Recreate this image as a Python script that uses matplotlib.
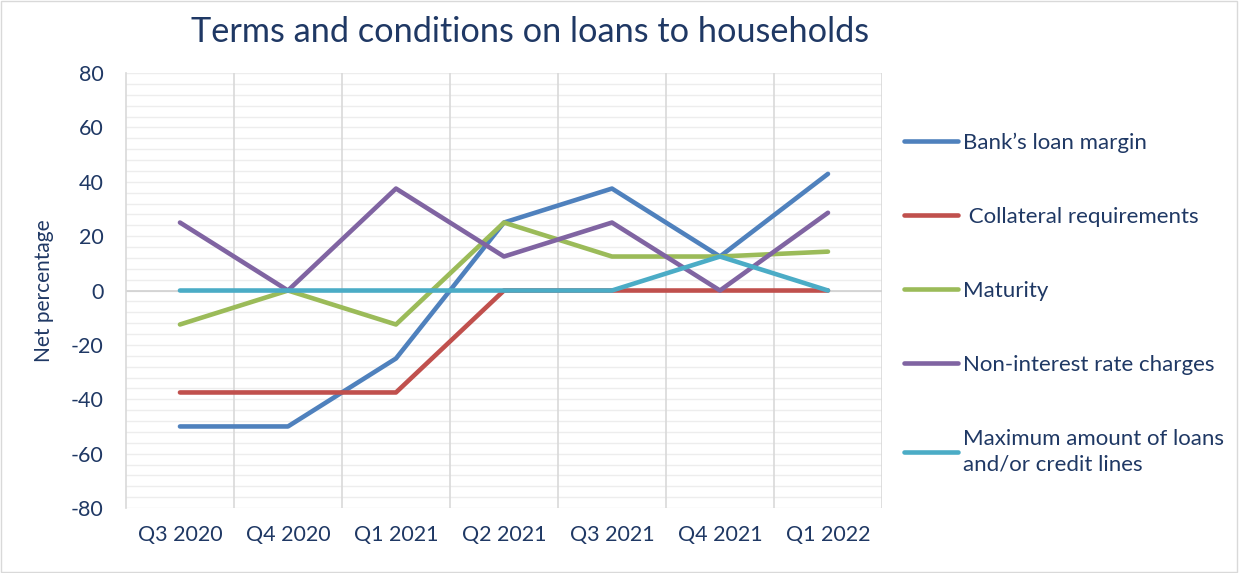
import numpy as np
import matplotlib.pyplot as plt
from matplotlib.patches import Rectangle

plt.rcParams['font.family'] = ['Lato', 'DejaVu Sans']
plt.rcParams['axes.unicode_minus'] = False

quarters = ["Q3 2020", "Q4 2020", "Q1 2021", "Q2 2021", "Q3 2021", "Q4 2021", "Q1 2022"]

loan_margin = [-50, -50, -25, 25, 37.5, 12.5, 42.9]
collateral = [-37.5, -37.5, -37.5, 0, 0, 0, 0]
maturity = [-12.5, 0, -12.5, 25, 12.5, 12.5, 14.3]
non_interest = [25, 0, 37.5, 12.5, 25, 0, 28.6]
max_amount = [0, 0, 0, 0, 0, 12.5, 0]

labels = ["Bank\u2019s loan margin", " Collateral requirements", "Maturity",
          "Non-interest rate charges", "Maximum amount of loans\nand/or credit lines"]
colors = ["#4F81BD", "#C0504D", "#9BBB59", "#8064A2", "#4BACC6"]
text_col = "#1F3864"

fig = plt.figure(figsize=(12.41, 5.73), dpi=100)
ax = fig.add_axes([0.1015, 0.1134, 0.6092, 0.7592])

x = np.arange(len(quarters))

# gridlines
for yv in np.arange(-80, 81, 4):
    ax.axhline(yv, color="#EDEDED", lw=1.0, zorder=0)
for xv in np.arange(0.5, 7, 1):
    ax.axvline(xv, color="#D9D9D9", lw=1.2, zorder=0)
ax.axhline(0, color="#D0D0D0", lw=1.2, zorder=1)

series = [loan_margin, collateral, maturity, non_interest, max_amount]
handles = []
for vals, col, lab in zip(series, colors, labels):
    h, = ax.plot(x, vals, color=col, lw=3.3, label=lab, solid_capstyle="round", zorder=3)
    handles.append(h)

ax.set_xlim(-0.5, 6.5)
ax.set_ylim(-80, 80)
ax.set_yticks(np.arange(-80, 81, 20))
ax.set_xticks(x)
ax.set_xticklabels(quarters)
ax.tick_params(length=0, labelsize=15.5, colors=text_col, pad=12)
ax.tick_params(axis="y", pad=16)
for s in ["top", "right", "bottom"]:
    ax.spines[s].set_visible(False)
ax.spines["left"].set_color("#D9D9D9")
ax.spines["left"].set_linewidth(1.2)

ax.set_ylabel("Net percentage", fontsize=15, color=text_col, labelpad=12)

fig.text(0.427, 0.944, "Terms and conditions on loans to households",
         ha="center", va="center", fontsize=24.7, color=text_col)

leg = fig.legend(handles=handles, loc="upper left", bbox_to_anchor=(0.7125, 0.803),
                 frameon=False, fontsize=16, handlelength=2.4, handletextpad=0.25,
                 labelspacing=2.43, labelcolor=text_col)
leg.get_texts()[-1].set_linespacing(1.35)

fig.add_artist(Rectangle((0.001, 0.002), 0.996, 0.996, transform=fig.transFigure,
                         fill=False, edgecolor="#D9D9D9", lw=1))

fig.savefig("out.png", dpi=100)
